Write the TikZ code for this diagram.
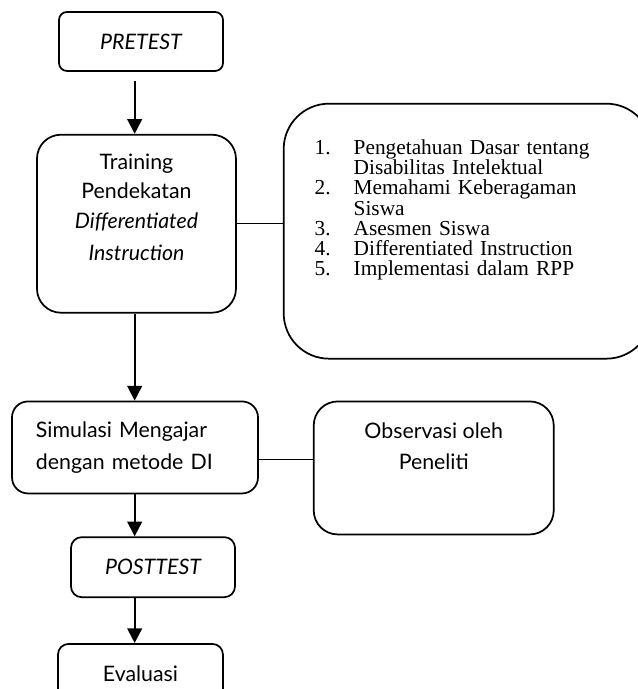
\documentclass[tikz,border=0pt]{standalone}
\usepackage{fontspec}
\newfontfamily\gillfont{Lato}
\newfontfamily\timesfont{Liberation Serif}
\usetikzlibrary{positioning,arrows.meta}

\newcommand{\itemno}[1]{\makebox[29.25pt][l]{#1}}

\begin{document}
\begin{tikzpicture}[
  box/.style={draw=black, line width=1.3pt, align=center, inner sep=0pt,
              font=\gillfont\fontsize{16}{22}\selectfont},
  arrow/.style={->, >={Triangle[length=11pt,width=11pt]}, line width=1.5pt},
  link/.style={line width=1pt}
]

\useasboundingbox (0,0) rectangle (478.5pt,-516.75pt);
\coordinate (spine) at (101pt,0);

\node[box, rounded corners=6pt, minimum width=123pt, minimum height=44.25pt] (pre) at (105.75pt,-31.1pt) {\itshape PRETEST};
\node[box, rounded corners=18pt, minimum width=149.25pt, minimum height=133.5pt,
      below=46.5pt of pre, xshift=-3.4pt] (train)
      {Training\\Pendekatan\\{\itshape Differentiated}\\[2pt]{\itshape Instruction}\\[3pt]};
\node[box, rounded corners=34pt, minimum height=191.25pt, inner xsep=23.25pt, text width=229.5pt,
      align=left, font=\timesfont\fontsize{16}{15.2}\selectfont,
      right=34.5pt of train, yshift=-5.6pt] (topics)
      {\itemno{1.}Pengetahuan Dasar tentang\\
       \itemno{}Disabilitas Intelektual\\
       \itemno{2.}Memahami Keberagaman\\
       \itemno{}Siswa\\
       \itemno{3.}Asesmen Siswa\\
       \itemno{4.}Differentiated Instruction\\
       \itemno{5.}Implementasi dalam RPP\par\vspace*{20pt}\null};
\node[box, rounded corners=12pt, minimum height=69pt, inner xsep=18pt, text width=148.5pt,
      align=left, font=\gillfont\fontsize{16}{24}\selectfont,
      below=65.25pt of train, xshift=-1.1pt] (sim)
      {Simulasi Mengajar\\dengan metode DI};
\node[box, rounded corners=18pt, minimum width=180pt, minimum height=99.75pt,
      font=\gillfont\fontsize{16}{23}\selectfont,
      right=40.5pt of sim.north east, anchor=north west] (obs)
      {Observasi oleh\\Peneliti\\[10pt]};
\node[box, rounded corners=8pt, minimum width=123pt, minimum height=45pt,
      below=31.5pt of sim, xshift=13.5pt] (post) {\itshape POSTTEST};
\node[box, rounded corners=8pt, minimum width=123.75pt, minimum height=44.25pt,
      below=33.75pt of post, xshift=-9.4pt] (eval) {Evaluasi};

\draw[arrow, shorten <=6.75pt] (pre.south -| spine) -- (train.north -| spine);
\draw[arrow] (train.south -| spine) -- (sim.north -| spine);
\draw[arrow] (sim.south -| spine) -- (post.north -| spine);
\draw[arrow] (post.south -| spine) -- (eval.north -| spine);

\draw[link] (train.east) -- (train.east -| topics.west);
\draw[link] ([yshift=-9pt]sim.east) -- ([yshift=-9pt]sim.east -| obs.west);

\end{tikzpicture}
\end{document}
